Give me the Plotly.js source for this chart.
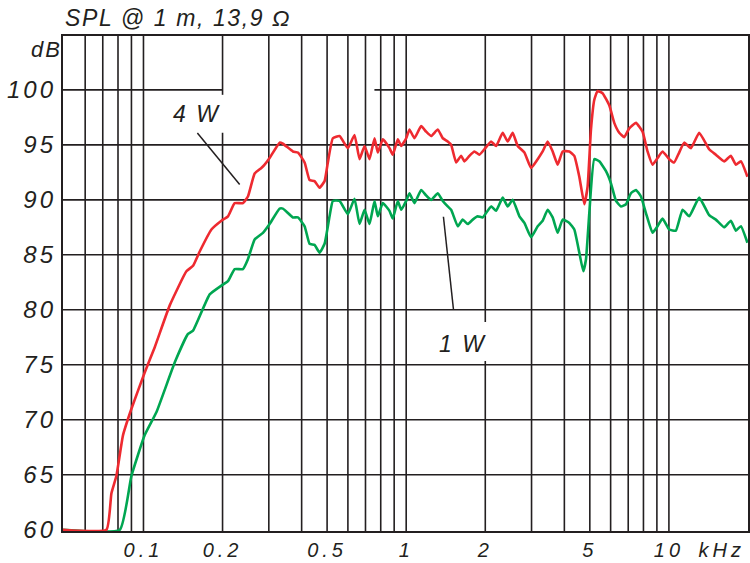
<!DOCTYPE html>
<html>
<head>
<meta charset="utf-8">
<script src="https://cdn.plot.ly/plotly-3.0.1.min.js"></script>
<style>
  html, body { margin: 0; padding: 0; background: #fff; }
  #chart { width: 750px; height: 563px; }
  .xtick text { letter-spacing: 4px; }
  .ytick text { letter-spacing: 3px; }
  .gtitle { letter-spacing: 1.6px; }
  .annotation-text { letter-spacing: 2px; }
</style>
</head>
<body>
<div id="chart"></div>
<script>
// ---- data (frequency in kHz, SPL in dB) ----
var freq4W = [0.0494,0.0723,0.0755,0.0789,0.0836,0.090,0.1011,0.1104,0.1259,0.1457,0.1544,0.1637,0.1814,0.198,0.2098,0.2224,0.2391,0.2498,0.265,0.281,0.2892,0.3021,0.3298,0.3395,0.3705,0.3871,0.4105,0.4288,0.4479,0.468,0.4891,0.5033,0.5258,0.5576,0.5997,0.6359,0.6644,0.6942,0.7251,0.7577,0.7798,0.8147,0.8639,0.8892,0.9291,0.9572,1.0,1.029,1.075,1.14,1.191,1.245,1.319,1.378,1.439,1.483,1.549,1.619,1.666,1.74,1.818,1.9,1.985,2.105,2.199,2.33,2.434,2.543,2.657,2.818,2.988,3.166,3.307,3.455,3.61,3.772,3.94,4.178,4.364,4.56,4.764,4.903,5.051,5.2,5.352,5.591,5.929,6.194,6.471,6.761,7.063,7.49,7.937,8.292,8.663,9.051,9.456,10.03,10.47,10.94,11.43,12.13,13.04,14.23,15.09,16.23,17.21,17.98,18.79,19.9];
var spl4W = [60,60,63.3,64.9,68.6,71.0,74.3,76.6,80.4,83.5,84.0,85.3,87.3,88.1,88.5,89.7,89.7,90.3,92.4,92.9,93.2,93.8,95.2,95.1,94.4,94.3,93.4,91.8,91.7,91.1,91.7,93.4,95.6,95.8,94.7,95.9,93.7,94.9,93.7,95.6,94.3,95.5,94.7,94.1,95.5,94.9,95.6,96.4,95.6,96.7,96.2,95.8,96.4,95.6,95.3,95.0,93.4,94.0,93.5,94.0,94.4,94.1,94.6,95.3,94.9,96.1,95.3,96.1,94.9,94.3,92.9,93.7,94.4,95.3,94.4,93.2,94.4,94.4,94.0,92.1,89.6,91.2,96.4,99.1,99.9,99.7,98.6,97.0,96.1,95.7,96.5,97.0,96.2,94.4,93.2,93.8,94.4,93.7,93.4,94.3,95.2,94.7,96.1,94.6,94.1,93.5,94.0,93.2,93.5,92.1];

var freq1W = [0.0494,0.0813,0.090,0.1011,0.1121,0.1315,0.1477,0.1544,0.1787,0.198,0.2098,0.2224,0.2391,0.2498,0.265,0.285,0.3021,0.3298,0.3395,0.3705,0.3871,0.4105,0.4288,0.4479,0.468,0.4891,0.5109,0.5258,0.5576,0.5997,0.6359,0.6644,0.6942,0.7251,0.7577,0.7798,0.8147,0.8639,0.8892,0.9291,0.9572,1.0,1.029,1.075,1.14,1.191,1.245,1.319,1.378,1.439,1.483,1.571,1.641,1.715,1.792,1.872,1.955,2.105,2.199,2.33,2.434,2.543,2.697,2.818,2.988,3.166,3.307,3.455,3.61,3.772,3.94,4.178,4.364,4.56,4.722,4.835,4.977,5.2,5.433,5.761,6.018,6.288,6.569,6.863,7.17,7.49,7.826,8.176,8.663,9.051,9.456,10.03,10.63,11.27,11.95,13.04,14.23,15.09,16.23,17.21,17.98,18.79,19.9];
var spl1W = [60,60,64.9,68.6,70.7,75.2,77.8,78.1,81.4,82.2,82.6,83.7,83.7,84.6,86.4,87.0,87.8,89.2,89.2,88.4,88.4,87.6,86.0,85.9,85.2,86.0,88.5,89.9,89.9,88.7,90.1,87.8,89.1,87.8,89.9,88.5,89.7,89.0,88.3,89.9,89.1,89.9,90.6,89.7,90.9,90.4,90.0,90.6,89.9,89.4,89.1,87.6,88.2,87.8,88.2,88.5,88.4,89.4,89.0,90.2,89.4,90.0,88.5,87.9,86.6,87.6,88.1,89.1,88.4,87.0,88.2,87.9,87.3,85.2,83.5,84.6,88.8,93.7,93.5,92.6,91.5,89.9,89.4,89.6,90.6,90.9,90.3,88.8,87.0,87.6,88.3,87.3,87.2,89.1,88.5,90.2,88.6,88.2,87.5,88.1,87.2,87.6,86.1];

// ---- axes / ticks ----
var xTickVals = [0.1, 0.2, 0.5, 1, 2, 5, 10, 15.9];
var xTickText = ['0.1', '0.2', '0.5', '1', '2', '5', '10', 'kHz'];
var yTickVals = [60, 65, 70, 75, 80, 85, 90, 95, 100];
var yTickText = ['60', '65', '70', '75', '80', '85', '90', '95', '100'];
var gridFreqs = [0.06, 0.07, 0.08, 0.09, 0.1, 0.3, 0.4, 0.5, 0.6, 0.7, 0.8, 0.9, 1, 3, 4, 5, 6, 7, 8, 9, 10];
var gridDb = [65, 70, 75, 80, 85, 90, 95];
var xMin = 0.0494, xMax = 20, yMin = 59.88, yMax = 104.9;

var INK = '#231f20';
var FONT = 'Liberation Sans, Arial, sans-serif';

var shapes = [];
function vline(f, y0, y1) {
  shapes.push({type: 'line', layer: 'below', xref: 'x', yref: 'y', x0: f, x1: f, y0: y0, y1: y1,
               line: {color: INK, width: 1.6}});
}
function hline(d, x0, x1) {
  shapes.push({type: 'line', layer: 'below', xref: 'x', yref: 'y', x0: x0, x1: x1, y0: d, y1: d,
               line: {color: INK, width: 1.6}});
}
gridFreqs.forEach(function (f) { vline(f, yMin, yMax); });
// broken grid lines behind the labels
vline(0.2, yMin, 96.1); vline(0.2, 99.55, yMax);
vline(2, yMin, 75.34); vline(2, 78.88, yMax);
gridDb.forEach(function (d) { hline(d, xMin, xMax); });
hline(100, xMin, 0.2); hline(100, 0.757, xMax);
// leader lines
shapes.push({type: 'line', xref: 'x', yref: 'y', x0: 0.1604, y0: 96.07, x1: 0.2324, y1: 91.39,
             line: {color: INK, width: 1.5}});
shapes.push({type: 'line', xref: 'x', yref: 'y', x0: 1.386, y0: 88.46, x1: 1.513, y1: 80.05,
             line: {color: INK, width: 1.5}});

var traces = [
  {x: freq1W, y: spl1W, type: 'scatter', mode: 'lines', name: '1 W',
   line: {color: '#00a651', width: 2.6, shape: 'spline', smoothing: 0.4}, hoverinfo: 'skip'},
  {x: freq4W, y: spl4W, type: 'scatter', mode: 'lines', name: '4 W',
   line: {color: '#ee2a30', width: 2.6, shape: 'spline', smoothing: 0.4}, hoverinfo: 'skip'}
];

var layout = {
  width: 750, height: 563,
  margin: {l: 63, r: 2, t: 36, b: 32},
  paper_bgcolor: '#ffffff', plot_bgcolor: '#ffffff',
  showlegend: false,
  title: {text: 'SPL @ 1 m, 13,9 \u03A9', xref: 'container', yref: 'container',
          x: 65 / 750, xanchor: 'left', y: 1 - 18 / 563, yanchor: 'middle',
          font: {family: FONT, size: 23, color: INK, style: 'italic'}},
  xaxis: {type: 'log', range: [Math.log10(xMin), Math.log10(xMax)], showgrid: false, zeroline: false,
          showline: true, mirror: true, linecolor: INK, linewidth: 2.2, ticks: '', layer: 'below traces',
          tickmode: 'array', tickvals: xTickVals, ticktext: xTickText, ticklabelstandoff: 0,
          tickfont: {family: FONT, size: 20, color: INK, style: 'italic'}},
  yaxis: {range: [yMin, yMax], showgrid: false, zeroline: false,
          showline: true, mirror: true, linecolor: INK, linewidth: 2.2, ticks: '', layer: 'below traces',
          tickmode: 'array', tickvals: yTickVals, ticktext: yTickText, ticklabelstandoff: 0,
          tickfont: {family: FONT, size: 24, color: INK, style: 'italic'}},
  shapes: shapes,
  annotations: [
    {text: 'dB', xref: 'paper', yref: 'paper', x: 0.002, y: 0.973, xanchor: 'right', yanchor: 'middle',
     showarrow: false, font: {family: FONT, size: 22, color: INK, style: 'italic'}},
    {text: '4 W', xref: 'paper', yref: 'paper', x: 0.1945, y: 0.842, xanchor: 'center', yanchor: 'middle',
     showarrow: false, font: {family: FONT, size: 23, color: INK, style: 'italic'}},
    {text: '1 W', xref: 'paper', yref: 'paper', x: 0.5839, y: 0.378, xanchor: 'center', yanchor: 'middle',
     showarrow: false, font: {family: FONT, size: 23, color: INK, style: 'italic'}}
  ]
};

Plotly.newPlot('chart', traces, layout, {staticPlot: true, displayModeBar: false});
</script>
</body>
</html>
